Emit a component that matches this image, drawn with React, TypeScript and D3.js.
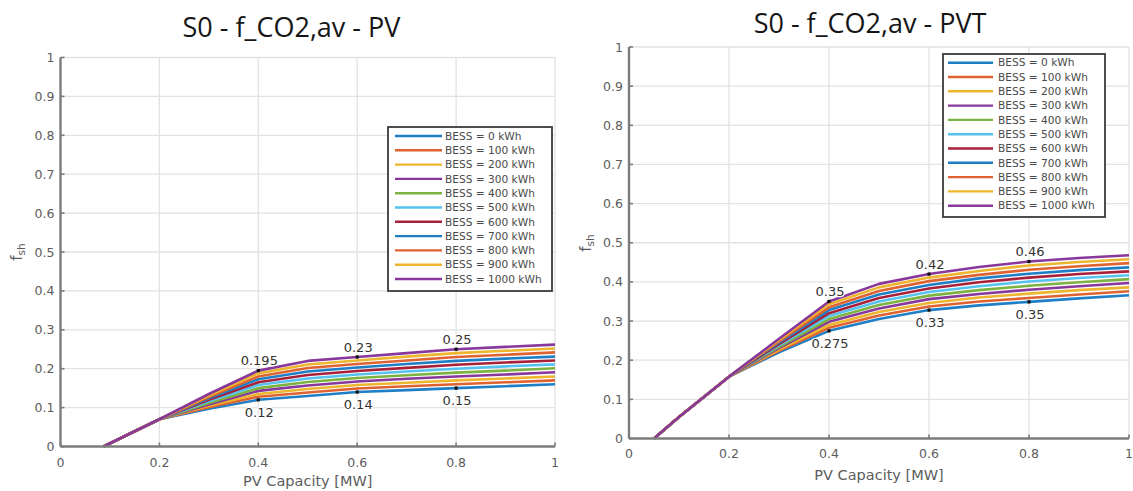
import React, { useRef, useEffect } from "react";
import * as d3 from "d3";

// legend entries and colours (MATLAB default order, repeating)
const bessLabels = [
  "BESS = 0 kWh", "BESS = 100 kWh", "BESS = 200 kWh", "BESS = 300 kWh",
  "BESS = 400 kWh", "BESS = 500 kWh", "BESS = 600 kWh", "BESS = 700 kWh",
  "BESS = 800 kWh", "BESS = 900 kWh", "BESS = 1000 kWh",
];
const lineColors = ["#1f7fc6", "#df6330", "#eeb52e", "#87389a", "#7db340", "#55c2ef", "#a8203a"];

const xTicks = [0, 0.2, 0.4, 0.6, 0.8, 1];
const yTicks = [0, 0.1, 0.2, 0.3, 0.4, 0.5, 0.6, 0.7, 0.8, 0.9, 1];

// PV case: one row per BESS size
const pvCapacity = [0.087, 0.2, 0.3, 0.4, 0.5, 0.6, 0.7, 0.8, 0.9, 1.0];
const pvShare = [
  [0, 0.07, 0.097, 0.120, 0.130, 0.140, 0.145, 0.150, 0.155, 0.160],
  [0, 0.07, 0.101, 0.128, 0.139, 0.149, 0.155, 0.160, 0.165, 0.170],
  [0, 0.07, 0.105, 0.135, 0.148, 0.158, 0.164, 0.170, 0.175, 0.180],
  [0, 0.07, 0.108, 0.143, 0.157, 0.167, 0.174, 0.180, 0.185, 0.191],
  [0, 0.07, 0.112, 0.150, 0.166, 0.176, 0.183, 0.190, 0.195, 0.201],
  [0, 0.07, 0.116, 0.158, 0.175, 0.185, 0.193, 0.200, 0.206, 0.211],
  [0, 0.07, 0.120, 0.165, 0.184, 0.194, 0.202, 0.210, 0.216, 0.221],
  [0, 0.07, 0.124, 0.173, 0.193, 0.203, 0.212, 0.220, 0.226, 0.231],
  [0, 0.07, 0.127, 0.180, 0.202, 0.212, 0.221, 0.230, 0.236, 0.242],
  [0, 0.07, 0.131, 0.188, 0.211, 0.221, 0.231, 0.240, 0.246, 0.252],
  [0, 0.07, 0.135, 0.195, 0.220, 0.230, 0.240, 0.250, 0.256, 0.262],
];

// PVT case
const pvtCapacity = [0.05, 0.1, 0.2, 0.3, 0.4, 0.5, 0.6, 0.7, 0.8, 0.9, 1.0];
const pvtShare = [
  [0, 0.055, 0.158, 0.220, 0.275, 0.305, 0.328, 0.340, 0.349, 0.358, 0.366],
  [0, 0.055, 0.158, 0.224, 0.283, 0.314, 0.337, 0.350, 0.359, 0.368, 0.376],
  [0, 0.055, 0.158, 0.227, 0.290, 0.323, 0.346, 0.360, 0.370, 0.379, 0.386],
  [0, 0.055, 0.158, 0.231, 0.298, 0.332, 0.356, 0.369, 0.380, 0.389, 0.397],
  [0, 0.055, 0.158, 0.234, 0.305, 0.341, 0.365, 0.379, 0.390, 0.399, 0.407],
  [0, 0.055, 0.158, 0.238, 0.313, 0.350, 0.374, 0.389, 0.401, 0.410, 0.417],
  [0, 0.055, 0.158, 0.241, 0.320, 0.359, 0.383, 0.399, 0.411, 0.420, 0.427],
  [0, 0.055, 0.158, 0.245, 0.328, 0.368, 0.392, 0.409, 0.421, 0.430, 0.437],
  [0, 0.055, 0.158, 0.248, 0.335, 0.377, 0.402, 0.418, 0.431, 0.440, 0.448],
  [0, 0.055, 0.158, 0.252, 0.343, 0.386, 0.411, 0.428, 0.442, 0.451, 0.458],
  [0, 0.055, 0.158, 0.255, 0.350, 0.395, 0.420, 0.438, 0.452, 0.461, 0.468],
];

// data tips: x position, series row, text, above/below
const pvTips = [
  { x: 0.4, series: 10, label: "0.195", above: true },
  { x: 0.4, series: 0, label: "0.12", above: false },
  { x: 0.6, series: 10, label: "0.23", above: true },
  { x: 0.6, series: 0, label: "0.14", above: false },
  { x: 0.8, series: 10, label: "0.25", above: true },
  { x: 0.8, series: 0, label: "0.15", above: false },
];
const pvtTips = [
  { x: 0.4, series: 10, label: "0.35", above: true },
  { x: 0.4, series: 0, label: "0.275", above: false },
  { x: 0.6, series: 10, label: "0.42", above: true },
  { x: 0.6, series: 0, label: "0.33", above: false },
  { x: 0.8, series: 10, label: "0.46", above: true },
  { x: 0.8, series: 0, label: "0.35", above: false },
];

const FONT = "'DejaVu Sans', sans-serif";

const panels = [
  {
    title: "S0 - f_CO2,av - PV", xs: pvCapacity, ys: pvShare, tips: pvTips,
    left: 60.5, right: 555, top: 57.5, bottom: 446.5,
    titleX: 291.5, titleY: 37,
    legend: { x: 388, y: 127, w: 164, h: 164, first: 9, s0: 7, s1: 54, tx: 57 },
    yLabelX: 22, yLabelY: 252, xTickY: 467, xLabelY: 486,
  },
  {
    title: "S0 - f_CO2,av - PVT", xs: pvtCapacity, ys: pvtShare, tips: pvtTips,
    left: 629, right: 1129, top: 47, bottom: 438.5,
    titleX: 870, titleY: 33,
    legend: { x: 943, y: 54, w: 162, h: 163, first: 8.7, s0: 5, s1: 50, tx: 55 },
    yLabelX: 591, yLabelY: 243, xTickY: 458, xLabelY: 480,
  },
];

const App = () => {
  const svgRef = useRef<SVGSVGElement>(null);

  useEffect(() => {
    const svg = d3.select(svgRef.current);
    svg.selectAll("*").remove();

    panels.forEach((p) => {
      const g = svg.append("g");
      const x = d3.scaleLinear().domain([0, 1]).range([p.left, p.right]);
      const y = d3.scaleLinear().domain([0, 1]).range([p.bottom, p.top]);

      // grid
      g.selectAll(".vgrid")
        .data(xTicks.slice(1))
        .join("line")
        .attr("x1", (d) => x(d)).attr("x2", (d) => x(d))
        .attr("y1", p.bottom).attr("y2", p.top)
        .attr("stroke", "#e2e2e2").attr("stroke-width", 1.3);
      g.selectAll(".hgrid")
        .data(yTicks.slice(1))
        .join("line")
        .attr("y1", (d) => y(d)).attr("y2", (d) => y(d))
        .attr("x1", p.left).attr("x2", p.right)
        .attr("stroke", "#e2e2e2").attr("stroke-width", 1.3);

      // lines
      const line = d3.line<number>()
        .x((d, i) => x(p.xs[i]))
        .y((d) => y(d));
      p.ys.forEach((row, i) => {
        g.append("path")
          .attr("d", line(row))
          .attr("fill", "none")
          .attr("stroke", lineColors[i % lineColors.length])
          .attr("stroke-width", 2.6)
          .attr("stroke-linejoin", "round");
      });

      // axes
      const axisColor = "#7c7c7c";
      g.append("line")
        .attr("x1", p.left).attr("x2", p.left)
        .attr("y1", p.bottom).attr("y2", p.top)
        .attr("stroke", axisColor).attr("stroke-width", 2.4);
      g.append("line")
        .attr("x1", p.left).attr("x2", p.right)
        .attr("y1", p.bottom).attr("y2", p.bottom)
        .attr("stroke", axisColor).attr("stroke-width", 2.4);
      g.selectAll(".ytick")
        .data(yTicks)
        .join("line")
        .attr("x1", p.left).attr("x2", p.left + 4)
        .attr("y1", (d) => y(d)).attr("y2", (d) => y(d))
        .attr("stroke", axisColor).attr("stroke-width", 1.6);
      g.selectAll(".xtick")
        .data(xTicks)
        .join("line")
        .attr("x1", (d) => x(d)).attr("x2", (d) => x(d))
        .attr("y1", p.bottom).attr("y2", p.bottom - 4)
        .attr("stroke", axisColor).attr("stroke-width", 1.6);

      g.selectAll(".ylab")
        .data(yTicks)
        .join("text")
        .attr("x", p.left - 6)
        .attr("y", (d) => y(d))
        .attr("dy", "0.36em")
        .attr("text-anchor", "end")
        .attr("font-family", FONT).attr("font-size", 12.5)
        .attr("fill", "#5c5c5c")
        .text((d) => d3.format("~g")(d));
      g.selectAll(".xlab")
        .data(xTicks)
        .join("text")
        .attr("x", (d) => x(d))
        .attr("y", p.xTickY)
        .attr("text-anchor", "middle")
        .attr("font-family", FONT).attr("font-size", 12.5)
        .attr("fill", "#5c5c5c")
        .text((d) => d3.format("~g")(d));

      g.append("text")
        .attr("x", (p.left + p.right) / 2)
        .attr("y", p.xLabelY)
        .attr("text-anchor", "middle")
        .attr("font-family", FONT).attr("font-size", 14.5)
        .attr("fill", "#5c5c5c")
        .text("PV Capacity [MW]");

      const yl = g.append("text")
        .attr("transform", `translate(${p.yLabelX},${p.yLabelY}) rotate(-90)`)
        .attr("text-anchor", "middle")
        .attr("font-family", FONT).attr("font-size", 15)
        .attr("fill", "#5c5c5c");
      yl.append("tspan").text("f");
      yl.append("tspan").attr("dy", 3).attr("font-size", 10.5).text("sh");

      // title
      g.append("text")
        .attr("x", p.titleX).attr("y", p.titleY)
        .attr("text-anchor", "middle")
        .attr("font-family", "'Open Sans', sans-serif").attr("font-size", 27)
        .attr("fill", "#151515")
        .text(p.title);

      // data tips
      p.tips.forEach((t) => {
        const xi = p.xs.indexOf(t.x);
        const px = x(t.x);
        const py = y(p.ys[t.series][xi]);
        g.append("rect")
          .attr("x", px - 1.6).attr("y", py - 1.6)
          .attr("width", 3.2).attr("height", 3.2)
          .attr("fill", "#111");
        g.append("text")
          .attr("x", px + 1)
          .attr("y", t.above ? py - 10 : py + 12)
          .attr("dy", "0.36em")
          .attr("text-anchor", "middle")
          .attr("font-family", FONT).attr("font-size", 13)
          .attr("fill", "#333")
          .attr("stroke", "#fff").attr("stroke-width", 2.5)
          .attr("paint-order", "stroke")
          .text(t.label);
      });

      // legend
      const L = p.legend;
      const lg = g.append("g").attr("transform", `translate(${L.x},${L.y})`);
      lg.append("rect")
        .attr("width", L.w).attr("height", L.h)
        .attr("fill", "#fff")
        .attr("stroke", "#3a3a3a").attr("stroke-width", 1.8);
      bessLabels.forEach((lab, i) => {
        const ly = L.first + i * 14.3;
        lg.append("line")
          .attr("x1", L.s0).attr("x2", L.s1)
          .attr("y1", ly).attr("y2", ly)
          .attr("stroke", lineColors[i % lineColors.length])
          .attr("stroke-width", 2.4);
        lg.append("text")
          .attr("x", L.tx).attr("y", ly)
          .attr("dy", "0.35em")
          .attr("font-family", FONT).attr("font-size", 10.6)
          .attr("fill", "#4a4a4a")
          .text(lab);
      });
    });
  }, []);

  return (
    <svg
      ref={svgRef}
      width={1133}
      height={491}
      style={{ position: "absolute", left: 0, top: 0, background: "#fff" }}
    ></svg>
  );
};

export default App;
